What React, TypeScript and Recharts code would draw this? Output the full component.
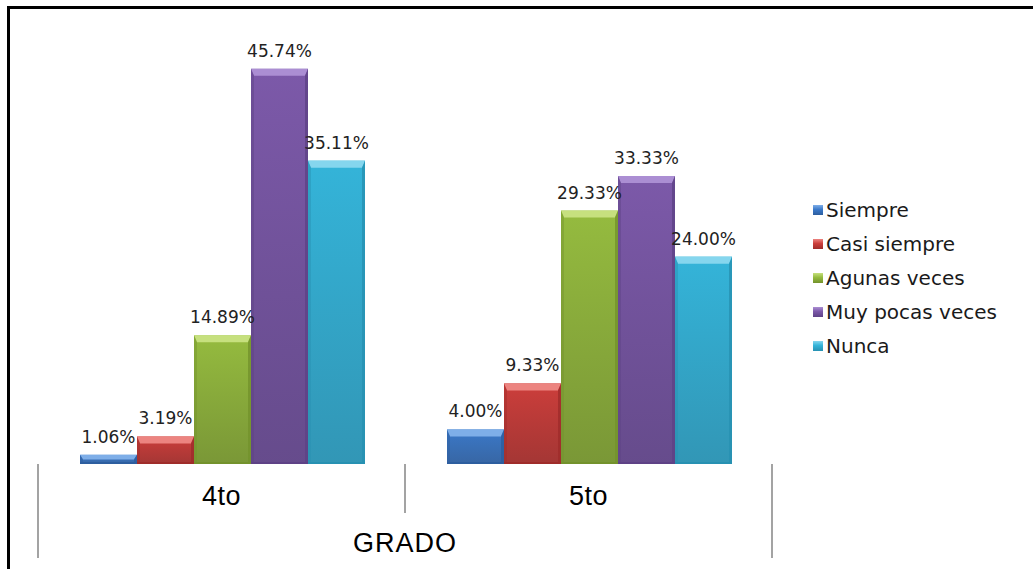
import { Bar, BarChart, LabelList, Legend, XAxis, YAxis } from "recharts";

const categories = ["4to", "5to"];
const seriesNames = ["Siempre", "Casi siempre", "Agunas veces", "Muy pocas veces", "Nunca"];
const siempre = [1.06, 4.0];
const casiSiempre = [3.19, 9.33];
const agunasVeces = [14.89, 29.33];
const muyPocasVeces = [45.74, 33.33];
const nunca = [35.11, 24.0];
const axisTitle = "GRADO";

// base / light (bevel) / dark (bottom) per series
const palette = [
  { base: "#3b79c9", light: "#7eaee8", dark: "#2d5e9f" },
  { base: "#cc3e3b", light: "#ec8480", dark: "#9f2c2a" },
  { base: "#95bb3f", light: "#c6e07e", dark: "#73922c" },
  { base: "#7c59a9", light: "#ab8ed3", dark: "#5e4286" },
  { base: "#34b4d9", light: "#85d6ee", dark: "#2791b2" },
];

const keys = ["siempre", "casiSiempre", "agunasVeces", "muyPocasVeces", "nunca"];
const data = categories.map((c, i) => ({
  grado: c,
  siempre: siempre[i],
  casiSiempre: casiSiempre[i],
  agunasVeces: agunasVeces[i],
  muyPocasVeces: muyPocasVeces[i],
  nunca: nunca[i],
}));

function BevelBar(props: any) {
  const { x, y, width, height, idx } = props;
  if (!height || height <= 0) return null;
  const c = palette[idx];
  const b = Math.min(7, height / 2);
  const s = Math.min(3, width / 4);
  return (
    <g>
      <rect x={x} y={y} width={width} height={height} fill={`url(#barGrad${idx})`} />
      <polygon
        points={`${x},${y} ${x + width},${y} ${x + width - s},${y + b} ${x + s},${y + b}`}
        fill={c.light}
      />
      <polygon
        points={`${x},${y} ${x + s},${y + b} ${x + s},${y + height} ${x},${y + height}`}
        fill={c.dark}
        opacity={0.45}
      />
      <polygon
        points={`${x + width},${y} ${x + width - s},${y + b} ${x + width - s},${y + height} ${x + width},${y + height}`}
        fill={c.dark}
        opacity={0.8}
      />
      <rect x={x} y={y + height - 2} width={width} height={2} fill={c.dark} />
    </g>
  );
}

function CategoryTick(props: any) {
  const { x, y, payload, index } = props;
  const half = payload.offset ?? 0;
  const last = index === categories.length - 1;
  return (
    <g>
      <line x1={x - half} x2={x - half} y1={y} y2={y + (index === 0 ? 94 : 49)} stroke="#a3a3a3" strokeWidth={2} />
      {last && <line x1={x + half} x2={x + half} y1={y} y2={y + 94} stroke="#a3a3a3" strokeWidth={2} />}
      <text
        x={x}
        y={y + 41}
        textAnchor="middle"
        fontSize={27}
        letterSpacing={0.5}
        fontFamily="Liberation Sans, Arial"
        fill="#000"
      >
        {payload.value}
      </text>
    </g>
  );
}

function LegendContent({ payload }: any) {
  const items = [...(payload || [])].sort(
    (a: any, b: any) => seriesNames.indexOf(a.value) - seriesNames.indexOf(b.value)
  );
  return (
    <div style={{ fontFamily: "DejaVu Sans", fontSize: 20, color: "#1a1a1a" }}>
      {items.map((e: any) => {
        const c = palette[seriesNames.indexOf(e.value)];
        return (
          <div key={e.value} style={{ display: "flex", alignItems: "center", height: 34 }}>
            <span
              style={{
                display: "inline-block",
                width: 10,
                height: 10,
                marginRight: 3,
                background: `linear-gradient(180deg, ${c.light} 0%, ${c.base} 45%, ${c.dark} 100%)`,
              }}
            />
            <span>{e.value}</span>
          </div>
        );
      })}
    </div>
  );
}

export default function App() {
  return (
    <div style={{ position: "absolute", left: 0, top: 0, width: 1033, height: 569, background: "#fff", overflow: "hidden" }}>
      <div
        style={{
          position: "absolute",
          left: 7,
          top: 6,
          width: 1040,
          height: 600,
          borderTop: "3px solid #000",
          borderLeft: "3px solid #000",
        }}
      />
      <div style={{ position: "absolute", left: 0, top: 0 }}>
        <BarChart
          width={1033}
          height={569}
          data={data}
          margin={{ top: 32, right: 261, left: 38, bottom: 0 }}
          barCategoryGap={42}
          barGap={0}
        >
          <defs>
            {palette.map((c, i) => (
              <linearGradient key={i} id={`barGrad${i}`} x1="0" y1="0" x2="0" y2="1">
                <stop offset="0%" stopColor={c.base} stopOpacity={1} />
                <stop offset="100%" stopColor={c.dark} stopOpacity={0.95} />
              </linearGradient>
            ))}
          </defs>
          <XAxis
            dataKey="grado"
            height={105}
            axisLine={false}
            tickLine={false}
            tickSize={0}
            tickMargin={0}
            tick={<CategoryTick />}
            interval={0}
            label={{
              value: axisTitle,
              position: "insideBottom",
              offset: 17,
              fontSize: 27,
              letterSpacing: 1,
              fontFamily: "Liberation Sans, Arial",
              fill: "#000",
            }}
          />
          <YAxis hide domain={[0, 50]} />
          <Legend
            layout="vertical"
            align="center"
            verticalAlign="middle"
            content={<LegendContent />}
            wrapperStyle={{ left: 813, top: 193, width: 220 }}
          />
          {keys.map((k, i) => (
            <Bar
              key={k}
              dataKey={k}
              name={seriesNames[i]}
              fill={palette[i].base}
              isAnimationActive={false}
              shape={(p: any) => <BevelBar {...p} idx={i} />}
            >
              <LabelList
                dataKey={k}
                position="top"
                offset={12}
                formatter={(v: any) => `${Number(v).toFixed(2)}%`}
                style={{ fontSize: 17, fontFamily: "DejaVu Sans", fill: "#222" }}
              />
            </Bar>
          ))}
        </BarChart>
      </div>
    </div>
  );
}
